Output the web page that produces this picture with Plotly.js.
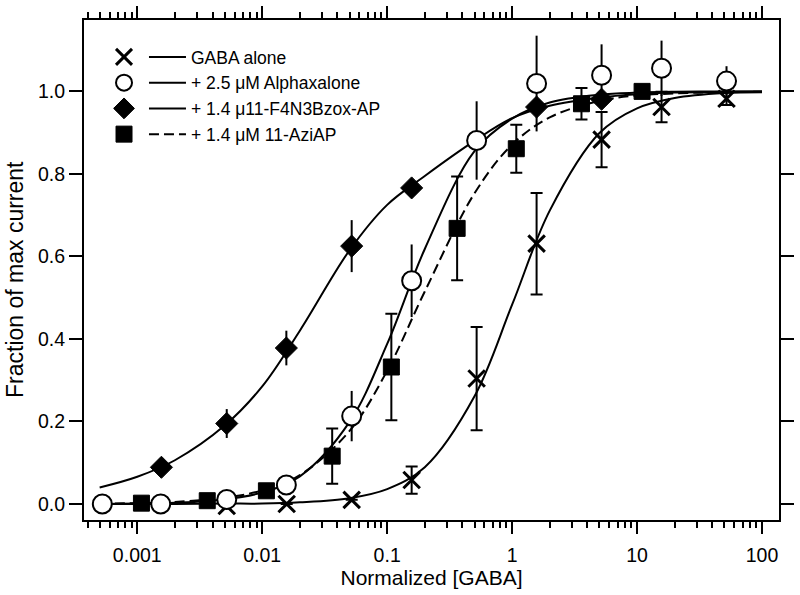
<!DOCTYPE html>
<html>
<head>
<meta charset="utf-8">
<script src="https://cdn.plot.ly/plotly-3.0.1.min.js"></script>
<style>
  html, body { margin: 0; padding: 0; background: #ffffff; }
  #chart { width: 800px; height: 595px; }
</style>
</head>
<body>
<div id="chart"></div>
<script>
// ---- data ----
var seriesNames = ["GABA alone", "+ 2.5 \u03bcM Alphaxalone", "+ 1.4 \u03bc11-F4N3Bzox-AP", "+ 1.4 \u03bcM 11-AziAP"];
var xTitle = "Normalized [GABA]";
var yTitle = "Fraction of max current";

// GABA alone (X)
var xGaba = [0.0052, 0.0157, 0.052, 0.157, 0.52, 1.57, 5.2, 15.7, 52];
var yGaba = [-0.005, 0.0, 0.01, 0.058, 0.304, 0.631, 0.883, 0.962, 0.982];
var eGaba = [0, 0, 0, 0.033, 0.125, 0.123, 0.067, 0.037, 0.015];

// + 2.5 uM Alphaxalone (open circles)
var xAlph = [0.000525, 0.00154, 0.0052, 0.0156, 0.052, 0.157, 0.52, 1.57, 5.2, 15.7, 52];
var yAlph = [0.0, 0.0, 0.011, 0.046, 0.213, 0.541, 0.881, 1.019, 1.039, 1.056, 1.025];
var eAlph = [0, 0, 0, 0, 0.061, 0.088, 0.095, 0.116, 0.075, 0.067, 0.036];

// + 1.4 u11-F4N3Bzox-AP (diamonds)
var xF4 = [0.00156, 0.0052, 0.0156, 0.052, 0.157, 1.57, 5.2];
var yF4 = [0.089, 0.195, 0.378, 0.625, 0.766, 0.962, 0.981];
var eF4 = [0, 0.035, 0.042, 0.063, 0, 0.02, 0.015];

// + 1.4 uM 11-AziAP (squares)
var xAzi = [0.00108, 0.00363, 0.0108, 0.0363, 0.108, 0.363, 1.08, 3.59, 10.97];
var yAzi = [0.002, 0.008, 0.032, 0.116, 0.332, 0.668, 0.861, 0.970, 1.0];
var eAzi = [0, 0, 0, 0.067, 0.129, 0.126, 0.058, 0.038, 0];

// fitted curves at these concentrations
var xFit = [0.0005, 0.001, 0.002, 0.005, 0.01, 0.02, 0.05, 0.1, 0.2, 0.5, 1, 2, 5, 10, 20, 50, 100];
var fitGaba = [0, 0, 0, 0.001, 0.001, 0.004, 0.014, 0.036, 0.089, 0.261, 0.483, 0.711, 0.899, 0.959, 0.984, 0.996, 0.998];
var fitAlph = [0, 0.001, 0.003, 0.011, 0.028, 0.067, 0.199, 0.388, 0.618, 0.855, 0.934, 0.973, 0.992, 0.997, 0.999, 1.0, 1.0];
var fitF4   = [0.040, 0.066, 0.106, 0.190, 0.285, 0.420, 0.615, 0.725, 0.795, 0.880, 0.935, 0.965, 0.985, 0.993, 0.997, 0.999, 1.0];
var fitAzi  = [0.001, 0.002, 0.005, 0.015, 0.033, 0.070, 0.177, 0.323, 0.515, 0.753, 0.871, 0.937, 0.977, 0.990, 0.995, 0.998, 0.999];

// axis ticks
var xTickVals = [0.001, 0.01, 0.1, 1, 10, 100];
var xTickText = ["0.001", "0.01", "0.1", "1", "10", "100"];
var yTickVals = [0, 0.2, 0.4, 0.6, 0.8, 1.0];
var yTickText = ["0.0", "0.2", "0.4", "0.6", "0.8", "1.0"];

// ---- build ----
var FONT = 'Arial, "Liberation Sans", sans-serif';
var minorVals = [];
for (var d = -4; d <= 2; d++) {
  for (var m = 2; m <= 9; m++) {
    var v = m * Math.pow(10, d);
    if (v > 0.00035 && v < 140) minorVals.push(v);
  }
}

function curve(y, dash, nm) {
  return {
    x: xFit, y: y, type: 'scatter', mode: 'lines', name: nm,
    line: { color: '#000', width: 2, shape: 'spline', smoothing: 1, dash: dash },
    legend: 'legend2', hoverinfo: 'skip'
  };
}
function points(x, y, e, marker, capw, rank) {
  return {
    x: x, y: y, type: 'scatter', mode: 'markers', name: ' ',
    marker: marker,
    error_y: { type: 'data', array: e, visible: true, color: '#000', thickness: 2, width: capw },
    legend: 'legend', legendrank: rank, cliponaxis: false
  };
}

var traces = [
  curve(fitGaba, 'solid', seriesNames[0]),
  curve(fitAlph, 'solid', seriesNames[1]),
  curve(fitF4, 'solid', seriesNames[2]),
  curve(fitAzi, '10px,5px', seriesNames[3]),
  points(xGaba, yGaba, eGaba, { symbol: 'x-thin', size: 16.5, color: '#000', line: { color: '#000', width: 3 } }, 6, 1),
  points(xAlph, yAlph, eAlph, { symbol: 'circle', size: 19, color: '#fff', line: { color: '#000', width: 2 } }, 0, 2),
  points(xF4, yF4, eF4, { symbol: 'diamond', size: 17, color: '#000', line: { color: '#000', width: 1 } }, 0, 3),
  points(xAzi, yAzi, eAzi, { symbol: 'square', size: 16, color: '#000', line: { color: '#000', width: 1 } }, 6, 4)
];

var layout = {
  width: 800, height: 595,
  margin: { l: 84, r: 21, t: 20, b: 75 },
  paper_bgcolor: '#fff', plot_bgcolor: '#fff',
  font: { family: FONT, color: '#000', size: 18 },
  showlegend: true,
  xaxis: {
    type: 'log', range: [-3.4264, 2.136], autorange: false,
    tickmode: 'array', tickvals: xTickVals, ticktext: xTickText,
    ticks: 'outside', ticklen: 12, tickwidth: 2, tickcolor: '#000',
    minor: { tickmode: 'array', tickvals: minorVals, ticks: 'outside', ticklen: 6, tickwidth: 2, tickcolor: '#000', showgrid: false },
    showline: true, linecolor: '#000', linewidth: 2, mirror: 'allticks',
    showgrid: false, zeroline: false,
    tickfont: { family: FONT, size: 19.5 },
    ticklabelstandoff: 5,
    title: { text: xTitle, font: { family: FONT, size: 21 }, standoff: 3 }
  },
  yaxis: {
    range: [-0.0388, 1.173], autorange: false,
    tickmode: 'array', tickvals: yTickVals, ticktext: yTickText,
    ticks: 'outside', ticklen: 13, tickwidth: 2, tickcolor: '#000',
    showline: true, linecolor: '#000', linewidth: 2, mirror: 'allticks',
    showgrid: false, zeroline: false,
    tickfont: { family: FONT, size: 19.5 },
    title: { text: '' }
  },
  annotations: [{
    text: yTitle, textangle: -90, showarrow: false,
    xref: 'paper', yref: 'paper', x: 0, y: 0.48, xanchor: 'center', yanchor: 'middle',
    xshift: -69, font: { family: FONT, size: 23, color: '#000' }
  }],
  legend: {
    x: 0.0288, y: 0.962, xanchor: 'left', yanchor: 'top',
    bgcolor: 'rgba(0,0,0,0)', borderwidth: 0, traceorder: 'normal',
    font: { family: FONT, size: 17.5 }, itemwidth: 30, itemclick: false
  },
  legend2: {
    x: 0.0863, y: 0.962, xanchor: 'left', yanchor: 'top',
    bgcolor: 'rgba(0,0,0,0)', borderwidth: 0, traceorder: 'normal',
    font: { family: FONT, size: 17.5 }, itemwidth: 37, itemclick: false
  }
};

Plotly.newPlot('chart', traces, layout, { staticPlot: true, displayModeBar: false });
</script>
</body>
</html>
